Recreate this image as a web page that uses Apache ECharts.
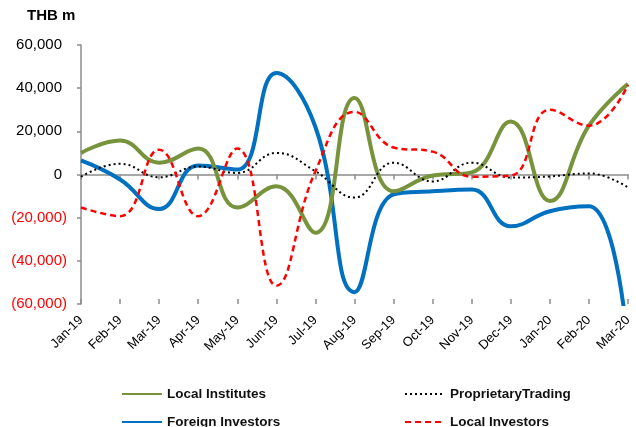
<!DOCTYPE html>
<html>
<head>
<meta charset="utf-8">
<script src="https://cdn.jsdelivr.net/npm/echarts@6/dist/echarts.min.js"></script>
<style>
html,body{margin:0;padding:0;background:#fff;}
#chart{width:636px;height:427px;}
</style>
</head>
<body>
<div id="chart"></div>
<script>
const categories = ['Jan-19','Feb-19','Mar-19','Apr-19','May-19','Jun-19','Jul-19','Aug-19','Sep-19','Oct-19','Nov-19','Dec-19','Jan-20','Feb-20','Mar-20'];
const localInstitutes = [10000, 15700, 5500, 12000, -15300, -5500, -27000, 35500, -7800, -500, 1000, 24500, -12300, 22600, 42000];
const foreignInvestors = [6500, -2300, -16000, 4200, 2300, 47000, 22000, -54500, -9200, -7800, -7000, -24000, -17000, -14700, -80000];
const proprietaryTrading = [-1000, 5000, -1300, 3700, 700, 10000, 1500, -10700, 5500, -3200, 5500, -1400, -900, 500, -6000];
const localInvestors = [-15300, -19300, 11500, -19300, 12000, -51500, 1500, 29000, 12500, 10600, -1000, -500, 30000, 22600, 41500];
const yTicks = {min: -60000, max: 60000, interval: 20000};

const FONT = '"Liberation Sans", Arial, sans-serif';
const AXIS_GRAY = '#8c8c8c';
const SMOOTH = 0.45;

function fmt(v) {
  const s = Math.abs(v).toLocaleString('en-US');
  return v < 0 ? '{neg|(' + s + ')}' : '{pos|' + s + '}';
}

const chart = echarts.init(document.getElementById('chart'), null, {renderer: 'canvas'});

const xBase = {type: 'category', data: categories, boundaryGap: false, gridIndex: 0};

function legendAt(name, left, top) {
  return {
    data: [name], left: left, top: top, orient: 'horizontal',
    itemWidth: 40, itemHeight: 12, padding: 0,
    itemStyle: {color: 'rgba(0,0,0,0)', borderColor: 'rgba(0,0,0,0)', borderWidth: 0},
    textStyle: {fontFamily: FONT, fontSize: 13.5, fontWeight: 'bold', color: '#111'}
  };
}

function lineSeries(name, data, color, width, type, z) {
  return {
    name: name, type: 'line', data: data,
    smooth: SMOOTH,
    symbol: 'none', clip: true, z: z,
    lineStyle: {color: color, width: width, type: type},
    itemStyle: {color: color}
  };
}

chart.setOption({
  animation: false,
  backgroundColor: '#fff',
  title: {
    text: 'THB m', left: 22, top: 3,
    textStyle: {fontFamily: FONT, fontSize: 15, fontWeight: 'bold', color: '#000'}
  },
  grid: {left: 81, right: 8, top: 45, bottom: 123, containLabel: false},
  legend: [
    legendAt('Local Institutes', 121, 387),
    legendAt('ProprietaryTrading', 404, 387),
    legendAt('Foreign Investors', 121, 415),
    legendAt('Local Investors', 404, 415)
  ],
  xAxis: [
    Object.assign({}, xBase, {
      position: 'bottom',
      axisLine: {show: false, onZero: false},
      axisTick: {show: false},
      axisLabel: {interval: 0, rotate: 45, margin: 14, fontFamily: FONT, fontSize: 13, color: '#000'},
      splitLine: {show: false}
    }),
    Object.assign({}, xBase, {
      position: 'bottom',
      axisLine: {show: true, onZero: true, lineStyle: {color: AXIS_GRAY, width: 1.5}},
      axisTick: {show: true, inside: false, length: 5, interval: 0, lineStyle: {color: AXIS_GRAY, width: 1.5}},
      axisLabel: {show: false},
      splitLine: {show: false}
    }),
    Object.assign({}, xBase, {
      position: 'bottom',
      axisLine: {show: true, onZero: true, lineStyle: {color: 'rgba(0,0,0,0)', width: 0}},
      axisTick: {show: true, inside: true, length: 5, interval: 0, lineStyle: {color: AXIS_GRAY, width: 1.5}},
      axisLabel: {show: false},
      splitLine: {show: false}
    })
  ],
  yAxis: {
    type: 'value', min: yTicks.min, max: yTicks.max, interval: yTicks.interval,
    axisLine: {show: true, lineStyle: {color: AXIS_GRAY, width: 1.5}},
    axisTick: {show: true, length: 4, lineStyle: {color: AXIS_GRAY, width: 1.5}},
    splitLine: {show: false},
    axisLabel: {
      margin: 14,
      formatter: fmt,
      rich: {
        pos: {fontFamily: FONT, fontSize: 15, color: '#000', padding: [0, 5, 0, 0]},
        neg: {fontFamily: FONT, fontSize: 15, color: '#ff0000'}
      }
    }
  },
  series: [
    lineSeries('Local Institutes', localInstitutes, '#77933c', 4, 'solid', 3),
    lineSeries('ProprietaryTrading', proprietaryTrading, '#000000', 2, [2, 3], 4),
    lineSeries('Foreign Investors', foreignInvestors, '#0070c0', 4, 'solid', 2),
    lineSeries('Local Investors', localInvestors, '#ff0000', 2.5, [6, 4], 5)
  ]
});
</script>
</body>
</html>
